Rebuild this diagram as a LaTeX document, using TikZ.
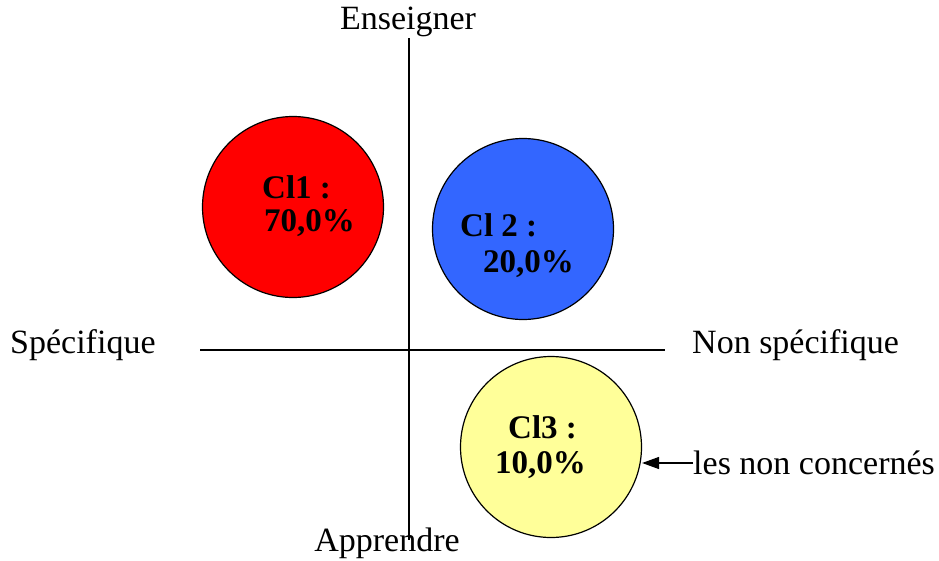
\documentclass[tikz,border=0pt]{standalone}
\usepackage{fontspec}
\setmainfont{Liberation Serif}
\usetikzlibrary{arrows.meta,positioning}

\definecolor{clred}{RGB}{255,0,0}
\definecolor{clblue}{RGB}{51,102,255}
\definecolor{clyellow}{RGB}{255,255,153}

\begin{document}
\begin{tikzpicture}[
        x=1pt, y=-1pt,
        every node/.style={font=\fontsize{34}{38}\selectfont},
        axis/.style={line width=1.6pt},
        classe/.style={draw, circle, line width=1.2pt, minimum size=181pt, inner sep=0pt},
        pct/.style={inner sep=0pt, font=\fontsize{33}{37}\selectfont\bfseries},
        pole/.style={inner sep=0pt},
        arrow/.style={-{Triangle[length=17pt,width=12pt]}, line width=1.4pt}
    ]
        \useasboundingbox (0,0) rectangle (939,560);

        % Classes
        \node[classe, fill=clred] (cl1) at (293,207) {};
        \node[classe, fill=clblue] (cl2) at (523,229) {};
        \node[classe, fill=clyellow] (cl3) at (551,447) {};

        % Axes
        \coordinate (haut) at (409,38);
        \coordinate (bas) at (409,540);
        \coordinate (gauche) at (200,350);
        \coordinate (droite) at (665,350);
        \draw[axis] (haut) -- (bas);
        \draw[axis] (gauche) -- (droite);

        % Poles
        \node[pole] (enseigner) at (408,22) {Enseigner};
        \node[pole] (apprendre) at (387,543) {Apprendre};
        \node[pole, anchor=west] (specifique) at (10,345) {Spécifique};
        \node[pole, anchor=west] (nonspec) at (692,345) {Non spécifique};

        % Labels des classes
        \node[pct, anchor=west] (cl1a) at (262,187) {Cl1 :};
        \node[pct, anchor=west] (cl1b) at (264,223) {70,0\%};
        \node[pct, anchor=west] (cl2a) at (460,225) {Cl 2 :};
        \node[pct, anchor=west] (cl2b) at (483,264) {20,0\%};
        \node[pct, anchor=west] (cl3a) at (508,427) {Cl3 :};
        \node[pct, anchor=west] (cl3b) at (495,465) {10,0\%};

        % Non concernes
        \node[pole, anchor=west] (nonc) at (693,463) {les non concernés};
        \draw[arrow] (nonc.west) -- (cl3.east |- nonc.west);

    \end{tikzpicture}
\end{document}
